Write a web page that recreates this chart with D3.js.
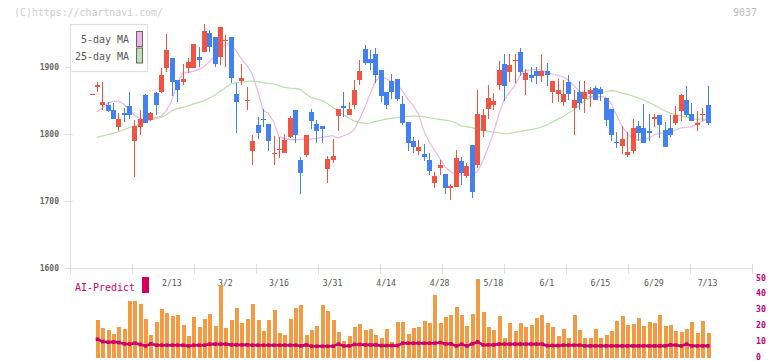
<!DOCTYPE html>
<html><head><meta charset="utf-8">
<script src="https://cdn.jsdelivr.net/npm/d3@7"></script>
<style>body{margin:0;background:#fff}svg{display:block}</style>
</head><body>
<svg id="c" width="772" height="361"></svg>
<script>
// ---- data ----
const dateLabels = ["2/13","3/2","3/16","3/31","4/14","4/28","5/18","6/1","6/15","6/29","7/13"];
const labelIndex = [15,25,35,45,55,65,75,85,95,105,115];
const priceTicks = [1600,1700,1800,1900];
const volTicks = [0,10,20,30,40,50];

const openP = [1860,
1870,1844,1843,1836,1811,1832,1842,1790,1811,1858,1821,1861,1863,1898,1914,1880,1878,1899,1899,1915,
1923,1951,1945,1915,1940,1945,1860,1879,1850,1775,1813,1823,1815,1770,1777,1772,1796,1836,1761,1769,
1833,1815,1812,1748,1761,1827,1842,1828,1843,1881,1927,1912,1920,1896,1862,1879,1882,1845,1818,1789,
1774,1770,1761,1727,1750,1740,1719,1721,1759,1737,1784,1754,1805,1837,1843,1873,1904,1893,1909,1922,
1880,1888,1894,1887,1894,1862,1860,1848,1877,1839,1863,1852,1860,1869,1867,1854,1837,1788,1782,1769,
1775,1812,1809,1804,1823,1828,1806,1809,1816,1835,1851,1830,1814,1828,1843];
const highP = [1860,
1877,1877,1848,1846,1831,1839,1863,1821,1836,1860,1833,1863,1898,1950,1914,1880,1905,1913,1934,1930,
1964,1955,1945,1960,1948,1945,1876,1905,1870,1799,1826,1838,1815,1797,1796,1800,1827,1836,1766,1799,
1837,1821,1812,1767,1793,1838,1863,1848,1881,1910,1933,1925,1929,1896,1863,1890,1882,1857,1818,1796,
1791,1785,1772,1744,1761,1740,1726,1776,1765,1756,1784,1865,1838,1873,1861,1909,1919,1919,1919,1928,
1897,1900,1900,1919,1906,1879,1882,1881,1888,1865,1879,1879,1870,1871,1870,1854,1837,1803,1812,1803,
1822,1820,1845,1830,1830,1828,1818,1828,1842,1860,1872,1846,1834,1839,1872];
const lowP = [1860,
1862,1836,1833,1822,1804,1818,1822,1736,1799,1817,1820,1828,1861,1893,1856,1848,1873,1891,1899,1900,
1923,1923,1900,1903,1900,1876,1801,1873,1836,1754,1792,1810,1774,1754,1764,1772,1794,1787,1711,1765,
1807,1787,1787,1727,1757,1805,1826,1828,1838,1873,1903,1896,1876,1848,1838,1852,1849,1813,1775,1772,
1769,1760,1739,1720,1739,1711,1702,1721,1724,1735,1704,1750,1796,1822,1836,1865,1849,1877,1876,1887,
1858,1877,1875,1877,1872,1846,1848,1842,1851,1799,1836,1832,1840,1851,1850,1812,1790,1779,1770,1766,
1770,1790,1787,1790,1811,1794,1780,1796,1813,1820,1826,1820,1805,1820,1814];
const closeP = [1860,
1873,1848,1835,1822,1823,1829,1829,1812,1823,1817,1832,1843,1888,1926,1878,1866,1882,1908,1934,1910,
1954,1930,1905,1960,1941,1884,1848,1884,1851,1789,1802,1821,1790,1771,1778,1791,1824,1799,1742,1799,
1820,1805,1807,1763,1767,1838,1839,1837,1866,1894,1906,1906,1888,1856,1843,1863,1852,1817,1787,1781,
1781,1766,1745,1737,1754,1719,1722,1764,1742,1752,1714,1830,1828,1853,1849,1896,1871,1903,1910,1893,
1891,1884,1887,1894,1888,1879,1866,1860,1859,1851,1847,1863,1866,1851,1860,1821,1799,1786,1793,1773,
1809,1802,1787,1802,1825,1813,1780,1799,1828,1858,1828,1820,1816,1830,1817];

const volume = [null,
23.6,18.6,17.4,14.9,19.2,18.0,35.6,35.6,33.9,24.3,14.2,22.4,30.5,28.0,26.2,26.8,20.5,13.6,25.5,19.2,
24.3,27.4,19.9,45.6,18.6,23.6,31.2,21.8,24.3,33.9,23.6,16.7,23.6,29.9,15.5,14.2,24.3,31.2,33.1,14.2,
17.4,19.9,33.1,29.3,23.6,16.1,10.5,13.6,19.2,21.1,17.4,18.0,14.2,12.3,18.0,9.8,22.4,
22.4,14.9,18.6,19.2,23.0,21.8,39.3,21.8,25.5,26.8,31.8,26.8,19.9,27.4,49.4,28.7,19.2,17.4,26.2,12.3,
21.8,16.7,21.8,19.2,20.5,24.9,26.8,21.8,19.2,13.6,18.0,12.3,26.8,17.4,12.3,12.3,18.0,12.3,14.2,16.7,
23.0,26.2,20.5,21.1,24.9,19.9,22.4,21.8,26.8,19.9,20.5,16.7,16.1,18.0,22.4,15.5,23.0,15.5];

const aiPredict = [null,
11.5,10.0,9.6,9.8,9.4,8.6,8.4,9.0,8.2,7.3,8.6,7.75,7.75,7.75,7.75,7.75,7.75,7.3,7.75,7.75,
7.75,8.4,8.4,8.4,8.4,7.95,7.95,7.95,7.95,7.75,7.75,7.75,7.75,7.75,7.75,7.75,7.75,7.75,7.3,7.95,
7.1,7.1,7.1,7.1,7.1,8.4,7.3,7.3,8.2,8.2,7.95,7.95,7.95,7.5,7.5,7.5,7.5,
9.0,9.0,9.0,9.0,9.0,9.0,9.0,9.4,8.6,8.6,7.3,8.4,7.3,8.6,9.8,7.95,7.95,7.95,8.4,8.4,
8.4,8.4,8.4,8.4,8.4,8.4,8.4,7.5,7.5,7.5,7.75,7.75,7.75,7.75,7.3,7.3,7.3,7.3,7.3,7.3,
7.3,7.3,7.3,7.3,7.3,7.3,7.3,7.3,7.3,7.3,7.95,7.75,7.3,8.4,7.3,7.3,7.3,7.3];

const ma5 = [null,
1833.3,1838.3,1845.7,1848.7,1849.2,1844.7,1836.8,1828.3,1823.3,1820.8,1821.8,1824.8,1826.3,1834.8,1850.7,1875.6,1890.5,1892,1893.5,1896.5,
1900.4,1907.9,1916.4,1926.3,1934.3,1934.3,1924.3,1911.4,1902.9,1889.5,1865.6,1835.8,1830.8,1818.4,1796,1793.5,1791.5,1791.5,1792,1792.5,
1792.5,1793.5,1795,1796,1797.5,1794,1797,1800,1806,1821.8,1839.3,1859.7,1878.1,1887.5,1882,1879,1874.6,1864.6,1852.7,1843.2,
1830.8,1805.9,1788.5,1776.1,1763.6,1751.2,1743.7,1739.8,1738.8,1738.8,1738.8,1743.7,1758.7,1778.6,1801,1828.3,1850.7,1861.6,1871.6,1888,
1894.5,1895.5,1897,1895.5,1891.5,1889.5,1888,1885.5,1880.6,1872.6,1864.1,1859.2,1855.7,1854.7,1855.7,1854.7,1845.7,1828.3,1811.9,1800.9,
1793.5,1791,1792.5,1793.5,1798.5,1801,1802,1803,1806,1809,1810,1811,1815,1819,1822];

const ma25 = [null,
1795,1797,1799,1801,1803.4,1806.4,1809.4,1811.9,1814.9,1817.9,1820.8,1822.8,1824.8,1828.8,1834.8,1837.8,1839.8,1841.7,1844.7,1847.2,
1849.7,1853.7,1857.7,1863.6,1869.1,1874.6,1876.6,1877.6,1878.6,1879.1,1878.1,1876.6,1875.6,1874.6,1872.1,1869.6,1868.6,1868.1,1866.6,1859.7,
1854.7,1852.2,1850.2,1845.7,1839.8,1834.8,1828.8,1823.8,1819.9,1817.4,1815.9,1816.4,1818.9,1820.4,1822.3,1823.3,1824.3,1825.3,1826.3,1826.8,
1826.8,1825.8,1824.3,1822.8,1821.8,1820.8,1819.4,1816.9,1811.9,1810.9,1809.4,1806.9,1805.4,1804.4,1802.9,1801.9,1800.4,1800.4,1802.4,1803.9,
1805.4,1806.4,1807.9,1810.4,1813.4,1817.9,1821.8,1825.8,1830.8,1835.8,1842.2,1849.2,1854.2,1858.2,1861.1,1863.1,1864.6,1864.1,1861.1,1859.2,
1856.7,1854.2,1850.7,1847.2,1843.7,1839.3,1834.8,1831.3,1828.8,1827.3,1825.3,1823.3,1821.8,1822.5,1822];

// ---- drawing ----
const svg = d3.select("#c");
const MONO = "'DejaVu Sans Mono', monospace";
const UP = "#f05443", DOWN = "#4380f0";

const x = d3.scaleLinear().domain([0, 115]).range([91.5, 707.5]);
const y = d3.scaleLinear().domain([1600, 1900]).range([268, 67]);
const yv = d3.scaleLinear().domain([0, 50]).range([357.5, 278]);
const gridX = d3.scaleLinear().domain([0, 11]).range([70, 752]);

// watermark and code
svg.append("text").attr("x", 14).attr("y", 16).attr("font-family", MONO).attr("font-size", 11)
  .attr("fill", "#cccccc").attr("textLength", 149).attr("lengthAdjust", "spacingAndGlyphs")
  .text("(C)https://chartnavi.com/");
svg.append("text").attr("x", 733).attr("y", 16).attr("font-family", MONO).attr("font-size", 11)
  .attr("fill", "#bbbbbb").attr("textLength", 24).attr("lengthAdjust", "spacingAndGlyphs").text("9037");

// left axis line and ticks
svg.append("line").attr("x1", 70.5).attr("x2", 70.5).attr("y1", 24).attr("y2", 268)
  .attr("stroke", "#e3e3e3").attr("stroke-width", 1);
svg.append("g").selectAll("line").data(priceTicks).join("line")
  .attr("x1", 65).attr("x2", 74).attr("y1", d => Math.round(y(d)) + 0.5).attr("y2", d => Math.round(y(d)) + 0.5)
  .attr("stroke", "#dddddd");
svg.append("g").selectAll("text").data(priceTicks).join("text")
  .attr("x", 59).attr("y", d => y(d) + 3).attr("text-anchor", "end")
  .attr("font-family", MONO).attr("font-size", 8).attr("font-weight", "bold").attr("fill", "#666")
  .text(d => d);

// bottom axis line with ticks
svg.append("line").attr("x1", 70).attr("x2", 752).attr("y1", 268.5).attr("y2", 268.5)
  .attr("stroke", "#e3e3e3").attr("stroke-width", 1.2);
svg.append("g").selectAll("line").data(d3.range(0, 12)).join("line")
  .attr("x1", d => Math.round(gridX(d)) + 0.5).attr("x2", d => Math.round(gridX(d)) + 0.5)
  .attr("y1", 264).attr("y2", 274).attr("stroke", "#dddddd");

// MA lines
const lineGen = d3.line().defined(d => d[1] != null).x(d => x(d[0])).y(d => y(d[1]));
svg.append("path").attr("d", lineGen(ma25.map((v, i) => [i, v])))
  .attr("fill", "none").attr("stroke", "#b8dfa8").attr("stroke-width", 1.2);
svg.append("path").attr("d", lineGen(ma5.map((v, i) => [i, v])))
  .attr("fill", "none").attr("stroke", "#ebb6ea").attr("stroke-width", 1.2);

// candles
const cidx = d3.range(openP.length);
const cg = svg.append("g").attr("shape-rendering", "crispEdges");
cg.selectAll("line.w").data(cidx).join("line").attr("class", "w")
  .attr("x1", i => Math.round(x(i)) + 0.5).attr("x2", i => Math.round(x(i)) + 0.5)
  .attr("y1", i => y(highP[i])).attr("y2", i => y(lowP[i]))
  .attr("stroke", i => closeP[i] >= openP[i] ? UP : DOWN).attr("stroke-width", 1);
cg.selectAll("rect.b").data(cidx).join("rect").attr("class", "b")
  .attr("x", i => Math.round(x(i)) - 2)
  .attr("width", 5)
  .attr("y", i => Math.min(y(openP[i]), y(closeP[i])))
  .attr("height", i => Math.max(1, Math.abs(y(openP[i]) - y(closeP[i]))))
  .attr("fill", i => closeP[i] >= openP[i] ? UP : DOWN);

// legend
const lg = svg.append("g");
lg.append("rect").attr("x", 70.5).attr("y", 24.5).attr("width", 77).attr("height", 47)
  .attr("fill", "#fff").attr("stroke", "#e0e0e0").attr("stroke-width", 1.3);
const legendItems = [["5-day MA", "#ebb6ea"], ["25-day MA", "#bfe0b2"]];
legendItems.forEach((d, k) => {
  lg.append("text").attr("x", 129).attr("y", 43 + k * 17).attr("text-anchor", "end")
    .attr("font-family", MONO).attr("font-size", 10.5).attr("fill", "#555")
    .attr("textLength", k ? 54 : 48).attr("lengthAdjust", "spacingAndGlyphs").text(d[0]);
  lg.append("rect").attr("x", 136.5).attr("y", 31.5 + k * 16.5).attr("width", 6).attr("height", 15)
    .attr("fill", d[1]).attr("stroke", "#666").attr("stroke-width", 1);
});

// date labels
svg.append("g").selectAll("text").data(dateLabels).join("text")
  .attr("x", (d, k) => x(labelIndex[k])).attr("y", 285.5).attr("text-anchor", "middle")
  .attr("font-family", MONO).attr("font-size", 8.2).attr("fill", "#555").text(d => d);

// volume bars
const vg = svg.append("g").attr("shape-rendering", "crispEdges");
vg.selectAll("rect").data(cidx.filter(i => volume[i] != null)).join("rect")
  .attr("x", i => Math.round(x(i)) - 1.5).attr("width", 4)
  .attr("y", i => yv(volume[i])).attr("height", i => yv(0) - yv(volume[i]))
  .attr("fill", "#f39a45");

// AI-Predict line
const aiLine = d3.line().defined(d => d[1] != null).x(d => x(d[0]) + 0.5).y(d => yv(d[1]));
svg.append("path").attr("d", aiLine(aiPredict.map((v, i) => [i, v])))
  .attr("fill", "none").attr("stroke", "#cc0066").attr("stroke-width", 2.6);
svg.append("g").selectAll("rect").data(cidx.filter(i => aiPredict[i] != null)).join("rect")
  .attr("x", i => x(i) - 1.2).attr("y", i => yv(aiPredict[i]) - 1.8).attr("width", 3.4).attr("height", 3.6)
  .attr("fill", "#cc0066");

svg.append("text").attr("x", 75).attr("y", 291).attr("font-family", MONO).attr("font-size", 11)
  .attr("fill", "#cc0066").attr("textLength", 60).attr("lengthAdjust", "spacingAndGlyphs").text("AI-Predict");
svg.append("rect").attr("x", 142).attr("y", 277).attr("width", 7).attr("height", 16).attr("fill", "#d4005f");

// right volume axis labels
svg.append("g").selectAll("text").data(volTicks).join("text")
  .attr("x", 756).attr("y", d => yv(d) + 2.5).attr("font-family", MONO).attr("font-size", 8.2)
  .attr("font-weight", "bold").attr("fill", "#c2007a").text(d => d);
</script>
</body></html>
